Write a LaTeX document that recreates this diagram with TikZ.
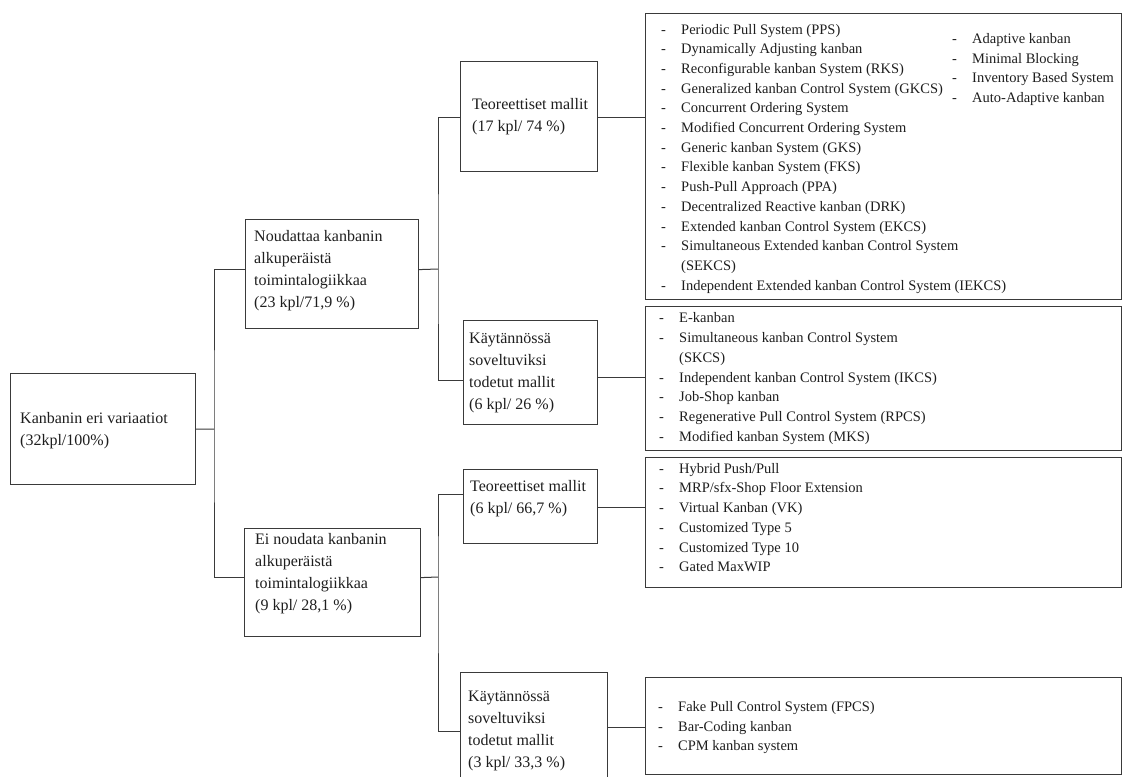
\documentclass[tikz,border=0pt]{standalone}
\usepackage{fontspec}
\setmainfont{Liberation Serif}
\usetikzlibrary{calc}
\definecolor{ink}{HTML}{1E1E1E}
\definecolor{rulegray}{HTML}{3A3A3A}
% one list entry: a dash, then the entry text
\newcommand\itm[1]{\makebox[20pt][l]{-}#1}
\newcommand\cont[1]{\makebox[20pt][l]{}#1}
\begin{document}
\begin{tikzpicture}[x=1pt,y=-1pt,
  box/.style={draw=rulegray, line width=1.2pt, rectangle, anchor=north west, inner sep=0pt},
  conn/.style={draw=rulegray, line width=1pt},
  lbl/.style={anchor=west, align=left, inner sep=0pt, text=ink, font=\fontsize{16}{22}\selectfont},
  lst/.style={anchor=west, align=left, inner sep=0pt, text=ink, font=\fontsize{14.5}{19.7}\selectfont},
]
\useasboundingbox (0,0) rectangle (1123,776);
\clip (0,0) rectangle (1123,776);
\fill[white] (0,0) rectangle (1123,776);

% category boxes
\node[box, minimum width=185, minimum height=111] (root) at (10,373) {};
\node[box, minimum width=173, minimum height=109] (nod)  at (245,219) {};
\node[box, minimum width=176, minimum height=108] (ei)   at (244,528) {};
\node[box, minimum width=137, minimum height=110] (t1)   at (460,61) {};
\node[box, minimum width=134, minimum height=104] (k1)   at (463,320) {};
\node[box, minimum width=134, minimum height=74]  (t2)   at (463,469) {};
\node[box, minimum width=147, minimum height=125] (k2)   at (460,672) {};

% list boxes
\node[box, minimum width=476, minimum height=286] (b1) at (645,13) {};
\node[box, minimum width=476, minimum height=144] (b2) at (645,306) {};
\node[box, minimum width=476, minimum height=130] (b3) at (645,457) {};
\node[box, minimum width=476, minimum height=97]  (b4) at (645,677) {};

% category texts
\node[lbl] (roottxt) at ($(root.west)+(10,2)$) {Kanbanin eri variaatiot\\(32kpl/100\%)};
\node[lbl] (nodtxt) at ($(nod.west)+(9,-3.5)$) {Noudattaa kanbanin\\alkuperäistä\\toimintalogiikkaa\\(23 kpl/71,9 \%)};
\node[lbl] (eitxt) at ($(ei.west)+(11,-9)$) {Ei noudata kanbanin\\alkuperäistä\\toimintalogiikkaa\\(9 kpl/ 28,1 \%)};
\node[lbl] (t1txt) at ($(t1.west)+(12,0)$) {Teoreettiset mallit\\(17 kpl/ 74 \%)};
\node[lbl] (k1txt) at ($(k1.west)+(6,0)$) {Käytännössä\\soveltuviksi\\todetut mallit\\(6 kpl/ 26 \%)};
\node[lbl] (t2txt) at ($(t2.west)+(7,-7.5)$) {Teoreettiset mallit\\(6 kpl/ 66,7 \%)};
\node[lbl] (k2txt) at ($(k2.west)+(8,-4.5)$) {Käytännössä\\soveltuviksi\\todetut mallit\\(3 kpl/ 33,3 \%)};

% list texts
\node[lst] (b1txt) at ($(b1.west)+(16,2)$) {%
\itm{Periodic Pull System (PPS)}\\
\itm{Dynamically Adjusting kanban}\\
\itm{Reconfigurable  kanban System (RKS)}\\
\itm{Generalized kanban Control System (GKCS)}\\
\itm{Concurrent Ordering System}\\
\itm{Modified Concurrent Ordering System}\\
\itm{Generic kanban System (GKS)}\\
\itm{Flexible kanban System (FKS)}\\
\itm{Push-Pull Approach (PPA)}\\
\itm{Decentralized Reactive kanban (DRK)}\\
\itm{Extended kanban Control System (EKCS)}\\
\itm{Simultaneous Extended kanban Control System}\\
\cont{(SEKCS)}\\
\itm{Independent Extended kanban Control System (IEKCS)}};
\node[lst] (b1rtxt) at (952,69.5) {%
\itm{Adaptive kanban}\\
\itm{Minimal Blocking}\\
\itm{Inventory Based System}\\
\itm{Auto-Adaptive kanban}};
\node[lst] (b2txt) at ($(b2.west)+(14,0)$) {%
\itm{E-kanban}\\
\itm{Simultaneous kanban Control System}\\
\cont{(SKCS)}\\
\itm{Independent kanban Control System (IKCS)}\\
\itm{Job-Shop kanban}\\
\itm{Regenerative Pull Control System (RPCS)}\\
\itm{Modified kanban System (MKS)}};
\node[lst] (b3txt) at ($(b3.west)+(14,-5)$) {%
\itm{Hybrid Push/Pull}\\
\itm{MRP/sfx-Shop Floor Extension}\\
\itm{Virtual Kanban (VK)}\\
\itm{Customized Type 5}\\
\itm{Customized Type 10}\\
\itm{Gated MaxWIP}};
\node[lst] (b4txt) at ($(b4.west)+(13,1.5)$) {%
\itm{Fake Pull Control System (FPCS)}\\
\itm{Bar-Coding kanban}\\
\itm{CPM kanban system}};

% branching points
\coordinate (j1) at (214,429);
\coordinate (j2) at (438,269);
\coordinate (j3) at (438,577);

% first level
\draw[conn] (root.east) -- (j1);
\draw[conn] ($(nod.west)+(0,-4.5)$) -| (j1) |- ($(ei.west)+(0,-5)$);

% second level
\draw[conn] ($(nod.east)+(0,-4.5)$) -- (j2);
\draw[conn] ($(t1.west)+(0,1)$) -| (j2) |- ($(k1.west)+(0,8)$);
\draw[conn] ($(ei.east)+(0,-5)$) -- (j3);
\draw[conn] ($(t2.west)+(0,-12)$) -| (j3) |- ($(k2.west)+(0,-3.5)$);

% third level
\draw[conn] ($(t1.east)+(0,1)$) coordinate (c1) -- (c1 -| b1.west);
\draw[conn] ($(k1.east)+(0,5)$) coordinate (c2) -- (c2 -| b2.west);
\draw[conn] ($(t2.east)+(0,1)$) coordinate (c3) -- (c3 -| b3.west);
\draw[conn] ($(k2.east)+(0,-7.5)$) coordinate (c4) -- (c4 -| b4.west);
\end{tikzpicture}
\end{document}
